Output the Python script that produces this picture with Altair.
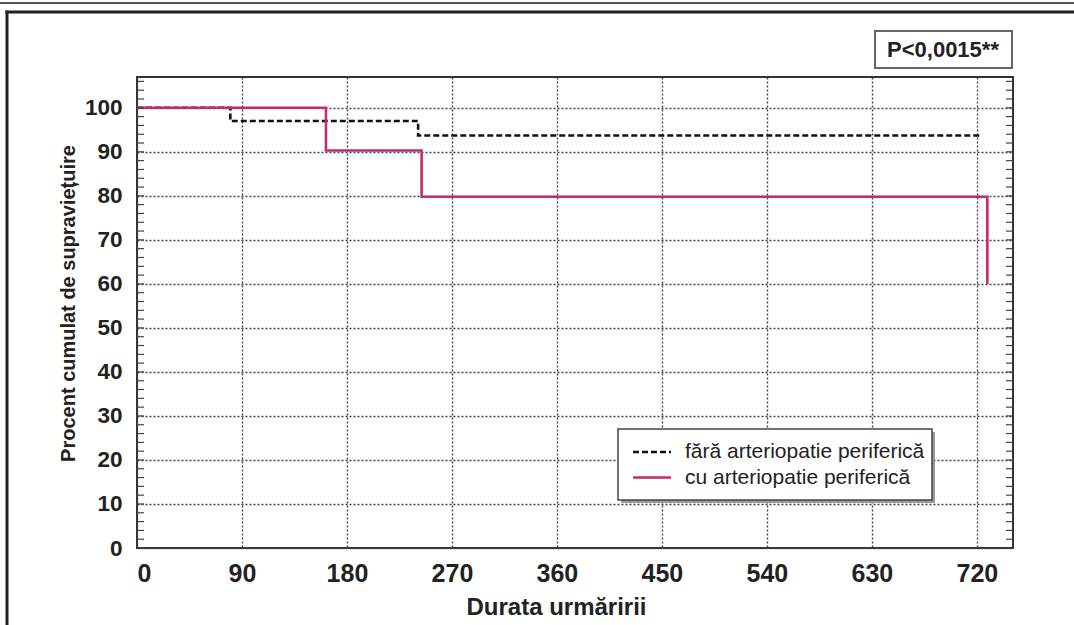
import altair as alt
import pandas as pd

# ---- data ----
GROUPS = ["fără arteriopatie periferică", "cu arteriopatie periferică"]
DAYS_FARA = [0, 80, 241, 724]
PCT_FARA = [100, 97.0, 93.7, 93.7]
DAYS_CU = [0, 162, 244, 729]
PCT_CU = [100, 90.3, 79.8, 60.0]
X_TICKS = [0, 90, 180, 270, 360, 450, 540, 630, 720]
Y_TICKS = [0, 10, 20, 30, 40, 50, 60, 70, 80, 90, 100]
MINOR_Y = list(range(0, 107, 2))
P_TEXT = "P<0,0015**"
X_TITLE = "Durata urmăririi"
Y_TITLE = "Procent cumulat de supraviețuire"

W, H = 876, 471
PINK = "#c42a6c"
GRID = "#444444"
NARROW = "'Liberation Sans Narrow', 'Arial Narrow', 'Liberation Sans', sans-serif"
SANS = "'Liberation Sans', Arial, sans-serif"

df = pd.DataFrame(
    {"day": DAYS_FARA, "pct": PCT_FARA, "grupa": [GROUPS[0]] * len(DAYS_FARA)}
)
df = pd.concat(
    [df, pd.DataFrame({"day": DAYS_CU, "pct": PCT_CU, "grupa": [GROUPS[1]] * len(DAYS_CU)})],
    ignore_index=True,
)
df["ord"] = range(len(df))

xscale = alt.Scale(domain=[0, 751], nice=False, zero=False)
yscale = alt.Scale(domain=[0, 107], nice=False)

yaxis = alt.Axis(
    values=Y_TICKS,
    grid=True,
    gridDash=[2, 2],
    gridColor=GRID,
    gridWidth=1.4,
    gridOpacity=1,
    domain=False,
    ticks=False,
    labelFont=SANS,
    labelFontSize=22.5,
    labelFontWeight="bold",
    labelColor="#222222",
    labelPadding=15,
    title=Y_TITLE,
    titleFont=SANS,
    titleFontSize=20,
    titleFontWeight="bold",
    titleColor="#222222",
    titleAngle=-90,
    titleX=-69,
    titleY=226,
    titleBaseline="middle",
    titleAlign="center",
)

legend = alt.Legend(
    title=None,
    orient="none",
    legendX=481,
    legendY=364,
    symbolType="M-2,0H2",
    symbolSize=361,
    symbolStrokeWidth=2.6,
    symbolOffset=23,
    labelFont=SANS,
    labelFontSize=21,
    labelColor="#222222",
    labelOffset=22,
    labelLimit=400,
    padding=0,
    rowPadding=4.5,
)

one = alt.Data(values=[{"a": 1}])

lines = alt.Chart(df).mark_line(interpolate="step-after", strokeWidth=2.6).encode(
    x=alt.X(
        "day:Q",
        scale=xscale,
        axis=alt.Axis(
            values=X_TICKS,
            grid=True,
            gridDash=[2, 2],
            gridColor=GRID,
            gridWidth=1.4,
            gridOpacity=1,
            domain=False,
            ticks=False,
            labelFont=NARROW,
            labelFontSize=25,
            labelFontWeight="bold",
            labelColor="#222222",
            labelPadding=13,
            title=X_TITLE,
            titleFont=NARROW,
            titleFontSize=24,
            titleFontWeight="bold",
            titleColor="#222222",
            titleX=419,
            titleY=59,
            titleBaseline="middle",
            titleAlign="center",
        ),
    ),
    y=alt.Y("pct:Q", scale=yscale, axis=yaxis),
    color=alt.Color(
        "grupa:N",
        scale=alt.Scale(domain=GROUPS, range=["#111111", PINK]),
        legend=legend,
    ),
    strokeDash=alt.StrokeDash(
        "grupa:N",
        scale=alt.Scale(domain=GROUPS, range=[[6, 3], [1, 0]]),
        legend=legend,
    ),
    order="ord:Q",
)

minor_df = pd.DataFrame({"v": MINOR_Y})
minor_left = alt.Chart(minor_df).mark_rule(color="#444444", strokeWidth=1.2).encode(
    y=alt.Y("v:Q", scale=yscale, axis=yaxis), x=alt.value(0), x2=alt.value(7)
)
minor_right = alt.Chart(minor_df).mark_rule(color="#444444", strokeWidth=1.2).encode(
    y=alt.Y("v:Q", scale=yscale, axis=yaxis), x=alt.value(W - 7), x2=alt.value(W)
)

legend_shadow = alt.Chart(one).mark_rect(color="#9a9a9a").encode(
    x=alt.value(484), x2=alt.value(798), y=alt.value(355), y2=alt.value(426)
)
legend_box = alt.Chart(one).mark_rect(fill="white", stroke="#444444", strokeWidth=1.5).encode(
    x=alt.value(481), x2=alt.value(795), y=alt.value(352), y2=alt.value(423)
)

p_box = alt.Chart(one).mark_rect(fill="white", stroke="#666666", strokeWidth=2).encode(
    x=alt.value(738), x2=alt.value(875), y=alt.value(-46), y2=alt.value(-9)
)
p_text = alt.Chart(one).mark_text(
    font=SANS, fontSize=22, fontWeight="bold", color="#222222", align="center", baseline="middle"
).encode(x=alt.value(806), y=alt.value(-27), text=alt.value(P_TEXT))

top_line = alt.Chart(one).mark_rule(color="#555555", strokeWidth=2).encode(
    x=alt.value(-137), x2=alt.value(940), y=alt.value(-74)
)
box_top = alt.Chart(one).mark_rule(color="#222222", strokeWidth=3).encode(
    x=alt.value(-131.5), x2=alt.value(940), y=alt.value(-65)
)
box_left = alt.Chart(one).mark_rule(color="#222222", strokeWidth=3).encode(
    x=alt.value(-130), y=alt.value(-66.5), y2=alt.value(560)
)

chart = alt.layer(
    lines,
    minor_left,
    minor_right,
    top_line,
    box_top,
    box_left,
    legend_shadow,
    legend_box,
    p_box,
    p_text,
).properties(
    width=W,
    height=H,
    autosize=alt.AutoSizeParams(type="none"),
    padding={"left": 137, "top": 77, "right": 61, "bottom": 77},
    background="white",
).configure_view(
    stroke="#333333", strokeWidth=2
)

chart.save("out.html", embed_options={"renderer": "svg", "actions": False})
